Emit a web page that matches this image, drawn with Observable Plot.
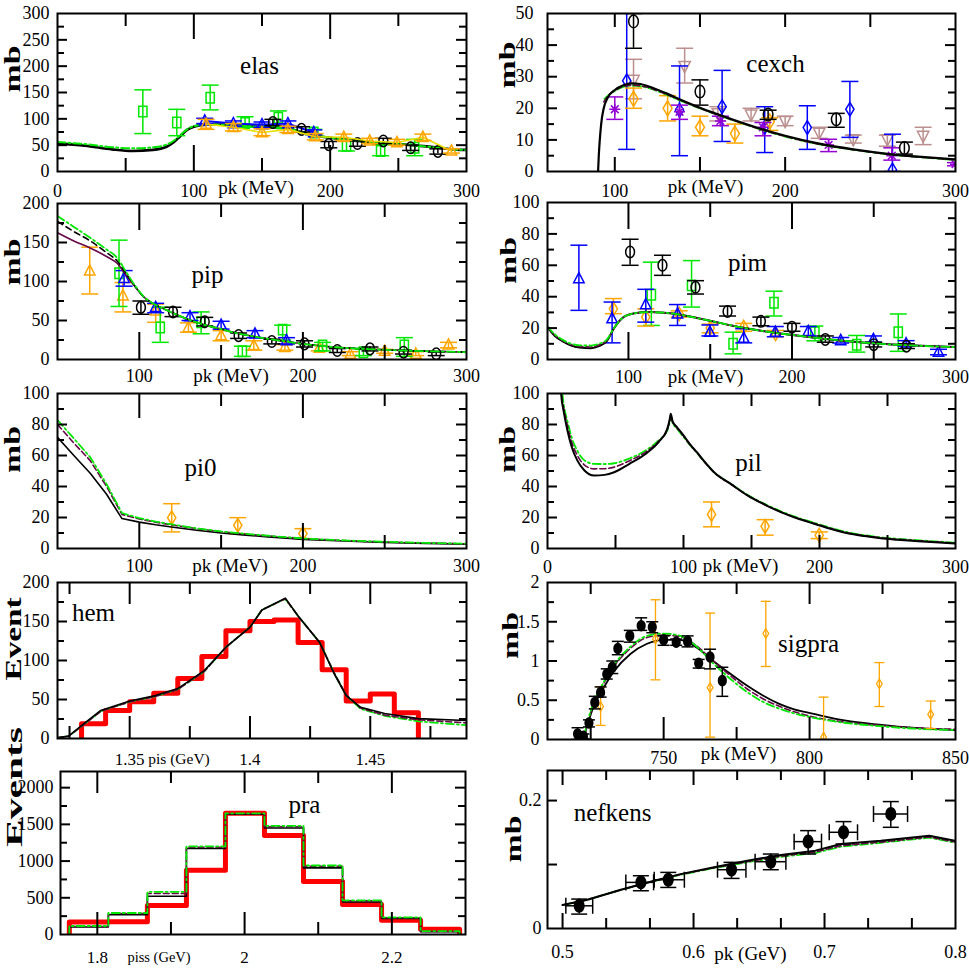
<!DOCTYPE html>
<html><head><meta charset="utf-8">
<script src="https://cdn.jsdelivr.net/npm/d3@7"></script>
<script src="https://cdn.jsdelivr.net/npm/@observablehq/plot@0.6"></script>
<style>
html,body{margin:0;padding:0;background:#fff;}
#fig{position:relative;width:969px;height:969px;overflow:hidden;background:#fff;font-family:"Liberation Serif",serif;}
#fig svg text{font-family:"Liberation Serif","Times New Roman",serif !important;}
</style></head><body><div id="fig"></div>
<script>
// ================= DATA =================
// point series: [x, y, low, high]; curves: [x, y]
// ---- elas ----
const elasXLabels = [0, 100, 200, 300];
const elasYLabels = [0, 50, 100, 150, 200, 250, 300];
const elasXMajor = [100, 200], elasXMinor = [50, 150, 250];
const elasYMajor = [50, 100, 150, 200, 250], elasYMinor = [25, 75, 125, 175, 225, 275];
const elasGreen = [[62.6,114,72,155],[87.5,93,68,118],[112,140,117,164],[137.6,92,84,104],[162,102,85,115],[188,74,70,80],[212,49,39,58],[237,39,30,51],[262,45,30,61]];
const elasBlue = [[108,96,91,101],[129,91,86,96],[150,89,84,94],[169,91,86,96],[188,74,70,79]];
const elasBlack = [[158,93,87,99],[179,80,75,85],[199,51,45,57],[220,53,48,58],[239,58,53,63],[259,45,40,50],[279,38,33,43]];
const elasOrange = [[109,90,80,99],[129,84,77,91],[150,74,68,81],[169,80,74,86],[189,66,60,72],[210,65,59,71],[229,58,53,63],[249,55,50,61],[268,65,59,71],[289,39,35,43]];
const elasCurveBlack = [[0,53],[20,49],[40,42],[55,39],[70,41],[80,47],[85,55],[90,67],[95,79],[100,85],[105,88],[110,89],[120,89],[130,88],[140,86],[150,85],[160,83],[170,81],[180,74],[190,68],[200,64],[210,61],[220,58],[240,54],[260,50],[280,45],[290,42],[300,41]];
const elasCurveGreen = [[0,56],[20,52],[40,46],[55,44],[70,46],[80,51],[85,58],[90,69],[95,80],[100,86],[110,89],[120,89],[130,88],[140,86],[150,85],[160,83],[170,81],[180,74],[190,68],[200,64],[210,61],[220,58],[240,54],[260,50],[280,45],[290,42],[300,41]];
// ---- cexch ----
const cexXLabels = [100, 200, 300];
const cexYLabels = [0, 10, 20, 30, 40, 50];
const cexXMajor = [100, 200], cexXMinor = [150, 250];
const cexYMajor = [10, 20, 30, 40], cexYMinor = [5, 15, 25, 35, 45];
const cexBlack = [[111,47.5,39,50],[150,25.3,21,29],[190,18,16.5,19.4],[230,16.5,14,18.4],[270,7.4,5.5,9.3]];
const cexBrown = [[111,29,23,35.5],[141,33.4,28,39],[160.5,18.4,16,20.5],[180,18,16,20],[200,16,14.5,17.5],[220,12.3,10.5,14],[240,10.2,9,11.5],[260,10.2,8,11.5],[281,11.3,8.5,14]];
const cexOrange = [[111,23,20,26.4],[131,20,16,24],[150,14,11.3,17.5],[170.5,12,9,15],[191,15.8,13,17]];
const cexViolet = [[100,19.7,16.5,23.6],[138,18.9,16.5,21],[162,16,14.5,17.5],[187,14,11.3,15.5],[225.5,8.4,6.3,10.2],[262.6,5,3.6,7.5],[300,2.3,1.8,2.8]];
const cexBlue = [[107,28.7,7,52],[138,19.4,5,33.4],[163,20.5,9.5,32],[188,14,6,20.5],[213,13.9,7,20.8],[238,19.7,10.8,28.5],[263,0.5,0,11.8]];
const cexCurveBlack = [[90.2,0],[90.6,5],[91.2,10],[92,15],[93.5,20],[96,23.5],[100,25.8],[105,27.3],[110,27.9],[115,27.7],[120,26.9],[130,24.8],[140,22.4],[150,20.2],[160,18.2],[170,16.3],[180,14.5],[190,12.8],[200,11.3],[220,8.8],[240,7],[260,5.6],[280,4.6],[300,3.8]];
const cexCurveMaroon = [[93.5,22],[96,24],[100,25.6],[105,26.9],[110,27.3],[115,27.1],[120,26.5],[130,24.5],[140,22.2],[150,20],[160,18],[170,16.1],[180,14.3],[190,12.6],[200,11.1],[220,8.6],[240,6.9],[260,5.5],[280,4.5],[300,3.7]];
const cexCurveGreen = [[94,23],[96,24],[100,25.5],[105,26.8],[110,27.2],[115,27],[120,26.4],[130,24.4],[140,22.1],[150,20],[160,18],[170,16.1],[180,14.3],[190,12.6],[200,11.1],[220,8.6],[240,6.9],[260,5.5],[280,4.5],[300,3.7]];
// ---- pip ----
const pipXLabels = [100, 200, 300];
const pipYLabels = [0, 50, 100, 150, 200];
const pipXMajor = [100, 200], pipXMinor = [150, 250];
const pipYMajor = [50, 100, 150], pipYMinor = [25, 75, 125, 175];
const pipOrange = [[69.7,113.6,84,144],[90,81.7,61,98.7],[110,62.5,47.7,71],[130,41,35,47],[150,30.6,24,37],[170,18,12,24],[189,15.7,12,19],[210,14.5,11,18],[229,7,5,10],[250,10.6,8,13],[269,7,5,10],[289,18.7,15,22]];
const pipGreen = [[87.6,110.6,68,153],[112.8,41,22,67],[137.8,47.7,33,61],[163,10.6,4,17],[187.6,38.3,25,44],[212,18,11,22],[237,9.4,5,13],[262,18,4,28]];
const pipBlue = [[90.7,104,94,114],[110,66.8,60,72],[131,55,50,60],[150,44,39,49],[170.7,32.8,28,37],[190,24.3,20,28]];
const pipBlack = [[101,66.8,58,75],[120.6,61,55,67],[140,48.5,43,54],[160.7,30.6,27,34],[181,23,20,26],[201,20,16,24],[221,11.5,9,14],[241,13.6,11,16],[261.5,9.4,7,12],[281.5,7.2,5,9.5]];
const pipCurveMaroon = [[50,162.5],[60,152],[70,143],[80,132],[86.6,123],[92,108],[97,94.5],[103,79.6],[110,70],[117.5,62.5],[128,53],[138,45.5],[150,39],[159,34],[170,29.5],[179,26.4],[190,23],[200,20],[210,17.7],[220,15.7],[240,13.4],[260,11.6],[280,10.4],[300,9.4]];
const pipCurveBlack = [[50,177],[60,164],[70,152],[80,137],[86.6,126],[92,110],[97,95],[103,79.6],[110,70],[117.5,62.5],[128,53],[138,45.5],[150,39],[159,34],[170,29.5],[179,26.4],[190,23],[200,20],[210,17.7],[220,15.7],[240,13.4],[260,11.6],[280,10.4],[300,9.4]];
const pipCurveGreen = [[50,184],[60,170],[70,156],[80,141],[86.6,130],[92,112],[97,96],[103,80],[110,70],[117.5,62.5],[128,53],[138,45.5],[150,39],[159,34],[170,29.5],[179,26.4],[190,23],[200,20],[210,17.7],[220,15.7],[240,13.4],[260,11.6],[280,10.4],[300,9.4]];
// ---- pim ----
const pimXLabels = [100, 200, 300];
const pimYLabels = [0, 20, 40, 60, 80, 100];
const pimXMajor = [100, 200], pimXMinor = [150, 250];
const pimYMajor = [20, 40, 60, 80], pimYMinor = [10, 30, 50, 70, 90];
const pimBlue = [[69.7,51.5,31.3,72.8],[90,26,10.6,36.6],[110.6,35,23.8,44.7],[130,29,21.7,35],[149.8,17.4,15,22],[170.5,13.6,10.6,19.6],[189.8,17.4,14.5,21],[210,17.9,15,21],[229.8,12.1,10.5,14],[249.8,12.8,11,15],[269.8,10,8.5,12],[289.6,4.7,3,6.5]];
const pimOrange = [[90.8,32.3,29.2,38.8],[110.6,27,21.3,32.3],[131,29,27,31],[150,20,17,22.5],[170.5,20.6,18,23],[190,16.4,14.5,18.5]];
const pimBlack = [[101,68.5,60,76.6],[120.8,60,53.6,66.4],[141,46,41.7,50.2],[160.6,30.6,27.7,34],[181,24.3,21.5,27],[200,20.6,18,23],[220.4,12.8,11,15],[250,9.4,8,11],[270,8.5,7,10]];
const pimGreen = [[114,41.3,21.7,62],[138.6,47.2,33.4,63],[164,10,3.6,17.4],[189,36.2,27.7,43.5],[214,17.4,11.9,21.3],[239.6,9.4,4.7,15.3],[265,17.4,5.2,29]];
const pimCurveBlack = [[50.5,20.6],[55,15],[60.7,11],[65,8.8],[70,7.6],[77,7.2],[82,8.5],[87,12],[91,19.6],[97,27],[104,29.5],[111.6,30.2],[122,29.8],[132,28.5],[142,26.4],[152,24.2],[163,21.7],[173,19.7],[183,18],[193,16.5],[203,15.3],[213,14],[223,12.8],[238,11.3],[254,10],[275,8.9],[300,7.9]];
const pimCurveMaroon = [[50.5,20.8],[55,15.5],[60.7,11.5],[65,9.4],[70,8.3],[77,8],[82,9.2],[87,12.5],[91,19.7],[97,27],[104,29.5],[111.6,30.2],[122,29.8],[132,28.5],[142,26.4],[152,24.2],[163,21.7],[173,19.7],[183,18],[193,16.5],[203,15.3],[213,14],[223,12.8],[238,11.3],[254,10],[275,8.9],[300,7.9]];
const pimCurveGreen = [[50.5,21],[55,16],[60.7,12],[65,10],[70,9],[77,8.9],[82,10],[87,13],[91,19.8],[97,27],[104,29.5],[111.6,30.2],[122,29.8],[132,28.5],[142,26.4],[152,24.2],[163,21.7],[173,19.7],[183,18],[193,16.5],[203,15.3],[213,14],[223,12.8],[238,11.3],[254,10],[275,8.9],[300,7.9]];
// ---- pi0 ----
const pi0XLabels = [100, 200, 300];
const pi0YLabels = [0, 20, 40, 60, 80, 100];
const pi0XMajor = [100, 200], pi0XMinor = [150, 250];
const pi0YMajor = [20, 40, 60, 80], pi0YMinor = [10, 30, 50, 70, 90];
const pi0Orange = [[119.8,19.9,10.7,28.9],[160.2,15,9.6,19.9],[200,9.6,6.4,12.8]];
const pi0CurveBlack = [[50,71.7],[60,60],[70,48.6],[80,35],[89.4,19.3],[100,17],[110,15.3],[119.6,13.9],[135,11.8],[150,10],[165,8.6],[178.6,7.5],[190,6.6],[200,5.8],[225,4.8],[250,3.9],[275,3.3],[300,2.8]];
const pi0CurveMaroon = [[50,80],[60,68],[70,56.7],[80,40],[89.4,22],[100,19],[110,17],[120,15.2],[135,12.8],[150,10.8],[165,9.3],[180,8],[200,6.4],[225,5.1],[250,4.2],[275,3.5],[300,3]];
const pi0CurveGreen = [[50,82.9],[60,71],[70,58.9],[80,41.5],[89.4,22.9],[100,19.6],[110,17.4],[120,15.5],[135,13],[150,11],[165,9.5],[180,8.1],[200,6.5],[225,5.2],[250,4.3],[275,3.6],[300,3.1]];
// ---- pil ----
const pilXLabels = [0, 100, 200, 300];
const pilYLabels = [0, 20, 40, 60, 80, 100];
const pilXMajor = [50, 100, 150, 200, 250], pilXMinor = [];
const pilYMajor = [20, 40, 60, 80], pilYMinor = [10, 30, 50, 70, 90];
const pilOrange = [[120.6,22,14,30],[160,14.3,8.6,18.6],[199.8,8.6,6.4,10.7]];
const pilCurveBlack = [[9.3,110],[10,100],[12,88],[14.7,76],[18,65],[22,56.7],[27,50.5],[34.3,47.1],[42,47.5],[49,49.2],[60,54.5],[73.5,62],[82,69],[88,77],[90,84],[90.6,87],[92,82],[95,78.5],[100,73],[105,67],[110,62],[116,55.5],[122.5,49.2],[135,41.5],[147,34.3],[160,28.2],[171.6,23.5],[185,19],[196,16],[208,12.7],[220.6,9.8],[233,8],[245,6.6],[257,5.7],[269.6,4.9],[285,4],[300,3.2]];
const pilCurveMaroon = [[9.6,110],[10.3,100],[12.3,89],[14.7,79],[18,68],[22,60],[27,54],[34.3,51.4],[42,51.5],[49,52.5],[60,56.5],[73.5,63],[82,69.5],[88,76.5],[90,83],[90.6,86],[92,81.5],[95,78],[100,72.5],[105,66.6],[110,61.6],[116,55.2],[122.5,49],[135,41.3],[147,34.3],[160,28.2],[171.6,23.6],[185,19.2],[196,16.2],[208,13],[220.6,10.1],[233,8.3],[245,6.9],[257,6],[269.6,5.2],[285,4.3],[300,3.5]];
const pilCurveGreen = [[10.2,110],[11,100],[13,88],[14.7,82],[18,71],[22,63],[27,57],[34.3,54.6],[42,54.5],[49,55],[60,58],[73.5,64],[82,70],[88,76],[90,82],[90.6,84.5],[92,81],[95,77.5],[100,72],[105,66.5],[110,61.5],[116,55.3],[122.5,49.2],[135,41.6],[147,34.6],[160,28.6],[171.6,24],[185,19.6],[196,16.6],[208,13.4],[220.6,10.5],[233,8.6],[245,7.2],[257,6.3],[269.6,5.5],[285,4.6],[300,3.8]];
// ---- hem ----
const hemXLabels = [1.35, 1.4, 1.45];
const hemYLabels = [0, 50, 100, 150, 200];
const hemXMajor = [1.35, 1.4, 1.45], hemXMinor = [1.325, 1.375, 1.425, 1.475];
const hemYMajor = [50, 100, 150], hemYMinor = [25, 75, 125, 175];
const hemBins = [1.33,1.34,1.35,1.36,1.37,1.38,1.39,1.40,1.41,1.42,1.43,1.44,1.45,1.46,1.47];
const hemCounts = [19,36,47,58,77,105,138,150,152,123,88,48,57,33];
const hemCurveBlack = [[1.32,1],[1.3246,3],[1.331,19],[1.338,36],[1.35,48],[1.3607,55],[1.37,64],[1.381,87],[1.39,117],[1.40,142.5],[1.405,164.7],[1.4147,180],[1.420,157],[1.429,123],[1.435,83],[1.44,55],[1.446,40],[1.456,32],[1.47,25.5],[1.49,23]];
const hemCurveMaroon = [[1.32,1],[1.3246,3],[1.331,18],[1.338,35],[1.35,47],[1.3607,54],[1.37,63],[1.381,86],[1.39,117],[1.40,143],[1.405,165],[1.4147,179],[1.420,157],[1.429,123],[1.435,84],[1.44,56],[1.446,39],[1.456,30],[1.47,24],[1.49,20]];
const hemCurveGreen = [[1.32,1],[1.3246,3],[1.331,18],[1.338,35],[1.35,47],[1.3607,54],[1.37,63],[1.381,86],[1.39,117],[1.40,143],[1.405,165],[1.4147,179],[1.420,157],[1.429,123],[1.435,84],[1.44,55],[1.446,38],[1.456,29],[1.47,22],[1.49,17]];
// ---- sigpra ----
const sigXLabels = [750, 800, 850];
const sigYLabels = [0, 0.5, 1, 1.5, 2];
const sigXMajor = [750, 800], sigXMinor = [725, 775, 825];
const sigYMajor = [0.5, 1, 1.5], sigYMinor = [0.25, 0.75, 1.25, 1.75];
const sigBlack = [[720.5,0.07,0.0,0.15],[722.5,0.04,0.01,0.07],[724.4,0.21,0.16,0.25],[726.4,0.47,0.39,0.55],[728.4,0.6,0.54,0.67],[730.5,0.83,0.77,0.9],[732.4,0.92,0.84,1.0],[734.3,1.16,1.08,1.25],[738.4,1.32,1.24,1.39],[742.3,1.45,1.39,1.55],[746.1,1.43,1.36,1.5],[750,1.27,1.2,1.32],[754.3,1.24,1.2,1.28],[758.2,1.25,1.18,1.32],[762,0.97,0.91,1.02],[765.9,1.05,0.9,1.15],[770.1,0.75,0.55,0.92]];
const sigOrange = [[728.4,0.42,0.18,0.67],[747.2,1.28,0.76,1.78],[765.9,0.66,0.03,1.61],[785,1.35,0.93,1.76],[804.8,0.03,0,0.54],[823.9,0.71,0.42,0.98],[841.5,0.32,0.14,0.49]];
const sigCurveBlack = [[721,0],[722.7,0.05],[724,0.2],[726,0.42],[729,0.63],[733,0.87],[738.6,1.09],[744.3,1.22],[750,1.27],[755.7,1.27],[761.4,1.17],[767,1.0],[772,0.86],[778.4,0.69],[784,0.56],[789.8,0.45],[795,0.38],[801,0.33],[812.5,0.24],[823.9,0.19],[835,0.15],[850,0.12]];
const sigCurveMaroon = [[721,0],[722.7,0.05],[724,0.22],[726,0.45],[729,0.68],[733,0.93],[738.6,1.16],[744.3,1.3],[750,1.33],[755.7,1.31],[761.4,1.19],[767,1.0],[772,0.84],[778.4,0.65],[784,0.52],[789.8,0.42],[795,0.35],[801,0.29],[812.5,0.22],[823.9,0.18],[835,0.15],[850,0.13]];
const sigCurveGreen = [[721,0],[722.7,0.06],[724,0.24],[726,0.47],[729,0.7],[733,0.95],[738.6,1.18],[744.3,1.32],[750,1.35],[755.7,1.32],[761.4,1.18],[767,0.97],[772,0.8],[778.4,0.61],[784,0.48],[789.8,0.39],[795,0.33],[801,0.28],[812.5,0.21],[823.9,0.17],[835,0.14],[850,0.12]];
// ---- pra ----
const praXLabels = [1.8, 2, 2.2];
const praYLabels = [0, 500, 1000, 1500, 2000];
const praXMajor = [1.8, 2.0, 2.2], praXMinor = [1.9, 2.1];
const praYMajor = [500, 1000, 1500, 2000], praYMinor = [250, 750, 1250, 1750];
const praBins = [1.762,1.815,1.868,1.921,1.974,2.027,2.08,2.133,2.186,2.239,2.292];
const praRed = [170,175,395,874,1651,1349,721,409,195,70];
const praBlack = [102,270,521,1172,1637,1451,907,442,219,37];
const praMaroon = [110,285,560,1190,1645,1468,930,458,228,42];
const praGreen = [116,293,581,1200,1651,1479,940,465,233,47];
// ---- nefkens ----
const nefXLabels = [0.5, 0.6, 0.7, 0.8];
const nefYLabels = [0, 0.2];
const nefXMajor = [0.5, 0.6, 0.7], nefXMinor = [0.5333, 0.5667, 0.6333, 0.6667, 0.7333, 0.7667];
const nefYMajor = [0.1, 0.2], nefYMinor = [];
// [x, y, ylow, yhigh, xlow, xhigh]
const nefData = [[0.5127,0.0355,0.0225,0.046,0.5025,0.523],[0.5598,0.0721,0.059,0.0825,0.5483,0.5695],[0.5807,0.0762,0.0642,0.0877,0.570,0.593],[0.629,0.0919,0.0783,0.1034,0.6183,0.64],[0.659,0.1044,0.0919,0.1164,0.647,0.6705],[0.6875,0.1358,0.1164,0.153,0.6768,0.6977],[0.7145,0.1504,0.1321,0.1671,0.7036,0.7252],[0.7506,0.1791,0.1582,0.1984,0.7374,0.7634]];
const nefCurveBlack = [[0.5,0.0366],[0.519,0.045],[0.5445,0.0606],[0.57,0.0747],[0.59,0.085],[0.6157,0.0956],[0.641,0.106],[0.6667,0.115],[0.693,0.1217],[0.7125,0.132],[0.743,0.137],[0.78,0.145],[0.8,0.137]];
const nefCurveMaroon = [[0.5,0.0366],[0.519,0.045],[0.5445,0.0604],[0.57,0.0744],[0.59,0.0845],[0.6157,0.095],[0.641,0.1045],[0.6667,0.113],[0.693,0.1195],[0.7125,0.1295],[0.743,0.135],[0.78,0.143],[0.8,0.135]];
const nefCurveGreen = [[0.5,0.0366],[0.519,0.045],[0.5445,0.0602],[0.57,0.0741],[0.59,0.084],[0.6157,0.0944],[0.641,0.1035],[0.6667,0.112],[0.693,0.118],[0.7125,0.128],[0.743,0.134],[0.78,0.142],[0.8,0.134]];

// ================= STYLE =================
const FONT = "Liberation Serif, Times New Roman, serif";
const C = {black:"#000000", maroon:"#670748", green:"#00e800", orange:"#ffa500", blue:"#0000ff", brown:"#bc8f8f", violet:"#9400d3", red:"#ff0000", yellow:"#e8e000"};
const DASH = "6,3", DASHDOT = "8,3,2,3";

const rOf = s => Math.sqrt(s / Math.PI);
const KB = 0.5523;
const symEllipse = {draw(c, s){ const r = rOf(s), rx = r*0.8, ry = r*1.05;
  c.moveTo(rx,0); c.bezierCurveTo(rx,KB*ry,KB*rx,ry,0,ry); c.bezierCurveTo(-KB*rx,ry,-rx,KB*ry,-rx,0);
  c.bezierCurveTo(-rx,-KB*ry,-KB*rx,-ry,0,-ry); c.bezierCurveTo(KB*rx,-ry,rx,-KB*ry,rx,0); c.closePath(); }};
const symRect = {draw(c, s){ const r = rOf(s), w = r*0.75, h = r*0.95;
  c.moveTo(-w,-h); c.lineTo(w,-h); c.lineTo(w,h); c.lineTo(-w,h); c.closePath(); }};
const symTriUp = {draw(c, s){ const r = rOf(s);
  c.moveTo(0,-r*1.1); c.lineTo(r*0.95,r*0.75); c.lineTo(-r*0.95,r*0.75); c.closePath(); }};
const symTriDown = {draw(c, s){ const r = rOf(s);
  c.moveTo(0,r*1.1); c.lineTo(r*0.95,-r*0.75); c.lineTo(-r*0.95,-r*0.75); c.closePath(); }};
const symDiamond = {draw(c, s){ const r = rOf(s);
  c.moveTo(0,-r*1.25); c.lineTo(r*0.75,0); c.lineTo(0,r*1.25); c.lineTo(-r*0.75,0); c.closePath(); }};
const symStar = {draw(c, s){ const r = rOf(s), d = r*0.7;
  c.moveTo(0,-r); c.lineTo(0,r); c.moveTo(-r,0); c.lineTo(r,0);
  c.moveTo(-d,-d); c.lineTo(d,d); c.moveTo(-d,d); c.lineTo(d,-d); }};
const symHCap = {draw(c, s){ const r = rOf(s); c.moveTo(-r,0); c.lineTo(r,0); }};
const symVCap = {draw(c, s){ const r = rOf(s); c.moveTo(0,-r); c.lineTo(0,r); }};

function pts(data, o) {
  const sw = o.sw ?? 1.5, col = o.color;
  return [
    Plot.ruleX(data, {x: d => d[0], y1: d => d[2], y2: d => d[3], stroke: col, strokeWidth: sw, clip: true}),
    Plot.dot(data, {x: d => d[0], y: d => d[2], symbol: symHCap, r: o.cap ?? 8.5, stroke: col, strokeWidth: sw, fill: "none", clip: true}),
    Plot.dot(data, {x: d => d[0], y: d => d[3], symbol: symHCap, r: o.cap ?? 8.5, stroke: col, strokeWidth: sw, fill: "none", clip: true}),
    Plot.dot(data, {x: d => d[0], y: d => d[1], symbol: o.symbol, r: o.r ?? 5.5, stroke: col, strokeWidth: sw, fill: o.fill ?? "none", clip: true})
  ];
}
function curve(data, color, dash, sw, cv) {
  return Plot.line(data, {x: d => d[0], y: d => d[1], stroke: color, strokeWidth: sw ?? 2, strokeDasharray: dash ?? null, curve: cv ?? "monotone-x", clip: true});
}
function steps(bins, counts) {
  const out = [[bins[0], 0]];
  counts.forEach((c, i) => out.push([bins[i], c]));
  out.push([bins[bins.length - 1], 0]);
  return out;
}
function stepLine(bins, counts, color, dash, sw) {
  return Plot.line(steps(bins, counts), {x: d => d[0], y: d => d[1], stroke: color, strokeWidth: sw, strokeDasharray: dash ?? null, curve: "step-after", clip: true});
}

// ================= PANELS =================
const panels = [
 {x0:57, x1:466, y0:13, y1:171, xd:[0,300], yd:[0,300],
  xl: elasXLabels, yl: elasYLabels, xM: elasXMajor, xm: elasXMinor, yM: elasYMajor, ym: elasYMinor,
  xML:26, xmL:13, title:"elas", tdx:202, tdy:52, xt:"pk (MeV)", xtDx:-6, xtDy:16, xlDy:20, ylDx:-8,
  yt:"mb", ytDx:45, ytDy:0, ytLen:47, ytFs:24,
  marks: [
   curve(elasCurveBlack, C.black, null, 2.6),
   curve(elasCurveGreen, C.green, DASHDOT, 2),
   ...pts(elasGreen, {color: C.green, symbol: symRect, r: 5.5}),
   Plot.line(elasBlue, {x: d => d[0], y: d => d[1], stroke: C.blue, strokeWidth: 2}),
   ...pts(elasBlue, {color: C.blue, symbol: symTriUp}),
   ...pts(elasBlack, {color: C.black, symbol: symEllipse}),
   Plot.line(elasOrange, {x: d => d[0], y: d => d[1], stroke: C.yellow, strokeWidth: 1.6}),
   ...pts(elasOrange, {color: C.orange, symbol: symTriUp})
  ]},
 {x0:547, x1:955, y0:13, y1:171, xd:[60.5,300], yd:[0,50],
  xl: cexXLabels, yl: cexYLabels, xM: cexXMajor, xm: cexXMinor, yM: cexYMajor, ym: cexYMinor,
  xML:14, xmL:14, title:"cexch", tdx:228, tdy:50, xt:"pk (MeV)", xtDx:-46, xtDy:15, xlDy:20, ylDx:-14,
  yt:"mb", ytDx:40, ytDy:-4, ytLen:47, ytFs:24,
  marks: [
   ...pts(cexBrown, {color: C.brown, symbol: symTriDown, r: 6}),
   ...pts(cexBlue, {color: C.blue, symbol: symDiamond, r: 5.5}),
   ...pts(cexOrange, {color: C.orange, symbol: symDiamond, r: 6}),
   ...pts(cexViolet, {color: C.violet, symbol: symStar, r: 5.5}),
   ...pts(cexBlack, {color: C.black, symbol: symEllipse, r: 6}),
   curve(cexCurveGreen, C.green, DASHDOT, 2),
   curve(cexCurveMaroon, C.maroon, DASH, 1.5),
   curve(cexCurveBlack, C.black, null, 2.2)
  ]},
 {x0:57, x1:466, y0:203, y1:359, xd:[50,300], yd:[0,200],
  xl: pipXLabels, yl: pipYLabels, xM: pipXMajor, xm: pipXMinor, yM: pipYMajor, ym: pipYMinor,
  xML:27, xmL:14, title:"pip", tdx:150, tdy:71, xt:"pk (MeV)", xtDx:-31, xtDy:16, xlDy:17, ylDx:-8,
  yt:"mb", ytDx:45, ytDy:4, ytLen:47, ytFs:24,
  marks: [
   ...pts(pipOrange, {color: C.orange, symbol: symTriUp}),
   ...pts(pipGreen, {color: C.green, symbol: symRect}),
   ...pts(pipBlue, {color: C.blue, symbol: symTriUp}),
   ...pts(pipBlack, {color: C.black, symbol: symEllipse}),
   curve(pipCurveMaroon, C.maroon, null, 1.6),
   curve(pipCurveBlack, C.black, "6,4", 1.6),
   curve(pipCurveGreen, C.green, DASHDOT, 1.8)
  ]},
 {x0:547, x1:955, y0:202, y1:359, xd:[50.5,300], yd:[0,100],
  xl: pimXLabels, yl: pimYLabels, xM: pimXMajor, xm: pimXMinor, yM: pimYMajor, ym: pimYMinor,
  xML:27, xmL:15, title:"pim", tdx:200, tdy:60, xt:"pk (MeV)", xtDx:-46, xtDy:17, xlDy:18, ylDx:-8,
  yt:"mb", ytDx:39, ytDy:3, ytLen:47, ytFs:24,
  marks: [
   ...pts(pimGreen, {color: C.green, symbol: symRect}),
   ...pts(pimOrange, {color: C.orange, symbol: symDiamond}),
   ...pts(pimBlue, {color: C.blue, symbol: symTriUp}),
   ...pts(pimBlack, {color: C.black, symbol: symEllipse}),
   curve(pimCurveBlack, C.black, null, 2),
   curve(pimCurveMaroon, C.maroon, DASH, 1.6),
   curve(pimCurveGreen, C.green, DASHDOT, 1.8)
  ]},
 {x0:57, x1:466, y0:393, y1:548, xd:[50,300], yd:[0,100],
  xl: pi0XLabels, yl: pi0YLabels, xM: pi0XMajor, xm: pi0XMinor, yM: pi0YMajor, ym: pi0YMinor,
  xML:25, xmL:13, title:"pi0", tdx:143, tdy:74, xt:"pk (MeV)", xtDx:-32, xtDy:17, xlDy:18, ylDx:-8,
  yt:"mb", ytDx:45, ytDy:2, ytLen:47, ytFs:24,
  marks: [
   ...pts(pi0Orange, {color: C.orange, symbol: symDiamond}),
   curve(pi0CurveBlack, C.black, null, 1.6, "linear"),
   curve(pi0CurveMaroon, C.maroon, DASH, 1.6, "linear"),
   curve(pi0CurveGreen, C.green, DASHDOT, 1.8, "linear")
  ]},
 {x0:547, x1:955, y0:393, y1:548, xd:[0,300], yd:[0,100],
  xl: pilXLabels, yl: pilYLabels, xM: pilXMajor, xm: pilXMinor, yM: pilYMajor, ym: pilYMinor,
  xML:13, xmL:13, title:"pil", tdx:201, tdy:69, xt:"pk (MeV)", xtDx:-11, xtDy:17, xlDy:19, ylDx:-8,
  yt:"mb", ytDx:40, ytDy:2, ytLen:47, ytFs:24,
  marks: [
   ...pts(pilOrange, {color: C.orange, symbol: symDiamond}),
   curve(pilCurveGreen, C.green, DASHDOT, 1.8),
   curve(pilCurveMaroon, C.maroon, DASH, 1.6),
   curve(pilCurveBlack, C.black, null, 2)
  ]},
 {x0:57, x1:466, y0:582, y1:738, xd:[1.32,1.49], yd:[0,200],
  xl: hemXLabels, yl: hemYLabels, xM: hemXMajor, xm: hemXMinor, yM: hemYMajor, ym: hemYMinor,
  xML:22, xmL:12, title:"hem", tdx:36, tdy:30, xt:"pis (GeV)", xtDx:-83, xtDy:21, xlDy:21, ylDx:-8, xtFs:15.5, xlFs:17,
  yt:"Event", ytDx:44, ytDy:20, ytLen:83, ytFs:24,
  marks: [
   stepLine(hemBins, hemCounts, C.red, null, 5),
   curve(hemCurveGreen, C.green, DASHDOT, 1.8, "linear"),
   curve(hemCurveMaroon, C.maroon, DASH, 1.6, "linear"),
   curve(hemCurveBlack, C.black, null, 1.6, "linear")
  ]},
 {x0:547, x1:955, y0:582, y1:739, xd:[710.2,850], yd:[0,2],
  xl: sigXLabels, yl: sigYLabels, xM: sigXMajor, xm: sigXMinor, yM: sigYMajor, ym: sigYMinor,
  xML:22, xmL:12, title:"sigpra", tdx:261, tdy:61, xt:"pk (MeV)", xtDx:-13, xtDy:14, xlDy:19, ylDx:-8,
  yt:"mb", ytDx:37, ytDy:-2, ytLen:47, ytFs:24,
  marks: [
   curve(sigCurveBlack, C.black, null, 1.8),
   curve(sigCurveMaroon, C.maroon, DASH, 1.6),
   curve(sigCurveGreen, C.green, DASHDOT, 1.8),
   ...pts(sigOrange, {color: C.orange, symbol: symDiamond, r: 3.8, cap: 5, sw: 1.3}),
   ...pts(sigBlack, {color: C.black, symbol: symEllipse, r: 4.8, cap: 6, fill: C.black})
  ]},
 {x0:60, x1:465, y0:771, y1:934, xd:[1.75,2.3], yd:[0,2220],
  xl: praXLabels, yl: praYLabels, xM: praXMajor, xm: praXMinor, yM: praYMajor, ym: praYMinor,
  xML:22, xmL:12, title:"pra", tdx:244, tdy:33, xt:"piss (GeV)", xtDx:-104, xtDy:23, xlDy:23, ylDx:-7, xtFs:14.5, xlFs:17,
  yt:"Events", ytDx:46, ytDy:-6, ytLen:120, ytFs:24,
  marks: [
   stepLine(praBins, praRed, C.red, null, 5),
   stepLine(praBins, praBlack, C.black, null, 1.6),
   stepLine(praBins, praMaroon, C.maroon, DASH, 1.5),
   stepLine(praBins, praGreen, C.green, DASHDOT, 1.8)
  ]},
 {x0:547, x1:955, y0:770, y1:928, xd:[0.4885,0.8], yd:[0,0.247],
  xl: nefXLabels, yl: nefYLabels, xM: nefXMajor, xm: nefXMinor, yM: nefYMajor, ym: nefYMinor,
  xML:15, xmL:10, title:"nefkens", tdx:65, tdy:42, xt:"pk (GeV)", xtDx:-1, xtDy:25, xlDy:24, ylDx:-6,
  yt:"mb", ytDx:34, ytDy:13, ytLen:47, ytFs:24,
  marks: [
   curve(nefCurveGreen, C.green, DASHDOT, 1.8, "linear"),
   curve(nefCurveMaroon, C.maroon, DASH, 1.6, "linear"),
   curve(nefCurveBlack, C.black, null, 2, "linear"),
   Plot.ruleY(nefData, {y: d => d[1], x1: d => d[4], x2: d => d[5], stroke: C.black, strokeWidth: 1.5}),
   Plot.dot(nefData, {x: d => d[4], y: d => d[1], symbol: symVCap, r: 8, stroke: C.black, strokeWidth: 1.5, fill: "none"}),
   Plot.dot(nefData, {x: d => d[5], y: d => d[1], symbol: symVCap, r: 8, stroke: C.black, strokeWidth: 1.5, fill: "none"}),
   ...pts(nefData, {color: C.black, symbol: symEllipse, r: 6, cap: 8, fill: C.black})
  ]}
];

const root = document.getElementById("fig");
const M = {l: 62, r: 30, t: 12, b: 48};
for (const p of panels) {
  const iw = p.x1 - p.x0, ih = p.y1 - p.y0;
  const tick = [];
  const addX = (vals, len) => {
    tick.push(Plot.tickX(vals, {x: d => d, insetTop: ih - len, stroke: "#000", strokeWidth: 2}));
    tick.push(Plot.tickX(vals, {x: d => d, insetBottom: ih - len, stroke: "#000", strokeWidth: 2}));
  };
  const addY = (vals, len) => {
    tick.push(Plot.tickY(vals, {y: d => d, insetRight: iw - len, stroke: "#000", strokeWidth: 2}));
    tick.push(Plot.tickY(vals, {y: d => d, insetLeft: iw - len, stroke: "#000", strokeWidth: 2}));
  };
  addX(p.xM, p.xML); if (p.xm.length) addX(p.xm, p.xmL);
  addY(p.yM, 10); if (p.ym.length) addY(p.ym, 7);
  const texts = [
    Plot.text(p.xl, {x: d => d, frameAnchor: "bottom", dy: p.xlDy, lineAnchor: "middle", text: d => String(d), fontSize: p.xlFs ?? 18, fontFamily: FONT, fill: "#000"}),
    Plot.text(p.yl, {y: d => d, frameAnchor: "left", dx: p.ylDx, textAnchor: "end", lineAnchor: "middle", text: d => String(d), fontSize: 18, fontFamily: FONT, fill: "#000"}),
    Plot.text([p.xt], {frameAnchor: "bottom", dx: p.xtDx, dy: p.xtDy, lineAnchor: "middle", text: d => d, fontSize: p.xtFs ?? 19, fontFamily: FONT, fill: "#000"}),
    Plot.text([p.yt], {frameAnchor: "left", dx: -p.ytDx, dy: p.ytDy, rotate: -90, lineAnchor: "middle", text: d => d, fontSize: p.ytFs, fontWeight: "bold", fontFamily: FONT, fill: "#000"}),
    Plot.text([p.title], {frameAnchor: "top-left", dx: p.tdx, dy: p.tdy, lineAnchor: "middle", textAnchor: "middle", text: d => d, fontSize: 25, fontFamily: FONT, fill: "#000"})
  ];
  const svg = Plot.plot({
    width: iw + M.l + M.r, height: ih + M.t + M.b,
    marginLeft: M.l, marginRight: M.r, marginTop: M.t, marginBottom: M.b,
    x: {domain: p.xd, axis: null}, y: {domain: p.yd, axis: null},
    style: "background: transparent; overflow: visible; max-width: none;",
    marks: [...p.marks, ...tick, Plot.frame({stroke: "#000", strokeWidth: 2}), ...texts]
  });
  svg.setAttribute("font-family", FONT);
  svg.style.position = "absolute";
  svg.style.left = (p.x0 - M.l) + "px";
  svg.style.top = (p.y0 - M.t) + "px";
  svg.querySelectorAll("text").forEach(t => {
    if (t.textContent === p.yt) { t.setAttribute("textLength", p.ytLen); t.setAttribute("lengthAdjust", "spacingAndGlyphs"); }
  });
  root.appendChild(svg);
}
</script></body></html>
